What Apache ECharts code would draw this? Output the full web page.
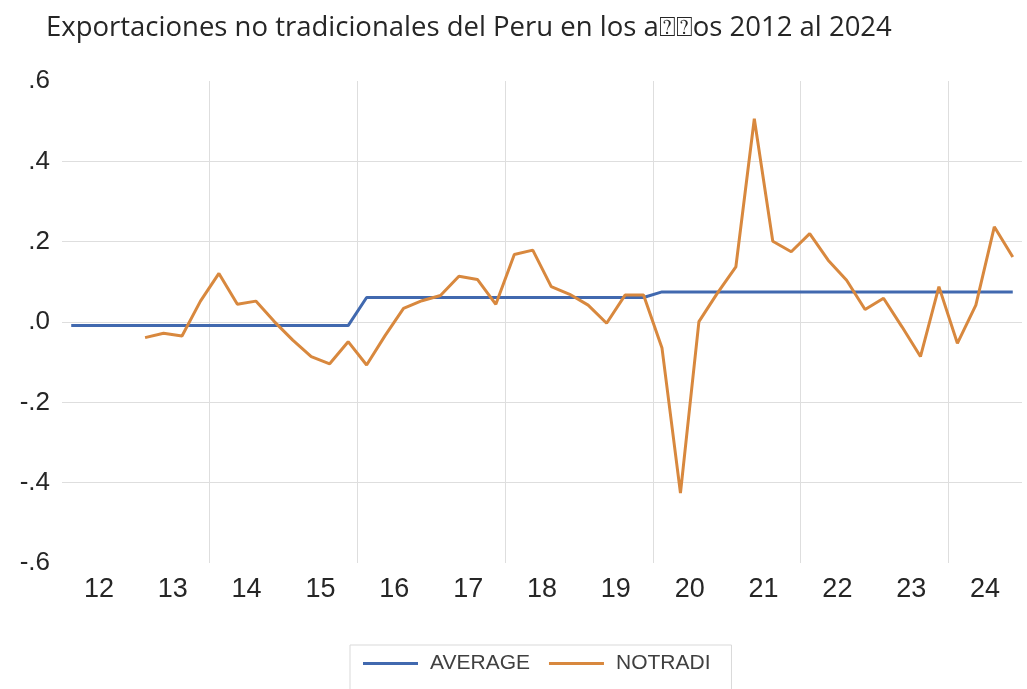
<!DOCTYPE html>
<html>
<head>
<meta charset="utf-8">
<script src="https://cdn.jsdelivr.net/npm/echarts@6/dist/echarts.min.js"></script>
<style>
  html, body { margin: 0; padding: 0; background: #ffffff; }
  #chart { width: 1027px; height: 689px; }
</style>
</head>
<body>
<div id="chart"></div>
<script>
// Quarterly periods 2012Q1 .. 2024Q4
const quarters = [];
for (let y = 2012; y <= 2024; y++) {
  for (let q = 1; q <= 4; q++) quarters.push(y + 'Q' + q);
}

// Year labels shown under the axis
const yearLabels = ['12', '13', '14', '15', '16', '17', '18', '19', '20', '21', '22', '23', '24'];

// Y-axis tick labels, from -0.6 to 0.6 in steps of 0.2
const yTickLabels = ['-.6', '-.4', '-.2', '.0', '.2', '.4', '.6'];

// Period average of non-traditional export growth
const average = [
  -0.009, -0.009, -0.009, -0.009,
  -0.009, -0.009, -0.009, -0.009,
  -0.009, -0.009, -0.009, -0.009,
  -0.009, -0.009, -0.009, -0.009,
  0.061, 0.061, 0.061, 0.061,
  0.061, 0.061, 0.061, 0.061,
  0.061, 0.061, 0.061, 0.061,
  0.061, 0.061, 0.061, 0.061,
  0.075, 0.075, 0.075, 0.075,
  0.075, 0.075, 0.075, 0.075,
  0.075, 0.075, 0.075, 0.075,
  0.075, 0.075, 0.075, 0.075,
  0.075, 0.075, 0.075, 0.075
];

// Year-on-year growth of non-traditional exports
const notradi = [
  null, null, null, null,
  -0.039, -0.028, -0.035, 0.052,
  0.121, 0.044, 0.052, 0.001,
  -0.045, -0.086, -0.104, -0.049,
  -0.107, -0.034, 0.034, 0.053,
  0.066, 0.114, 0.106, 0.044,
  0.168, 0.179, 0.088, 0.069,
  0.042, -0.003, 0.067, 0.067,
  -0.065, -0.426, 0.001, 0.072,
  0.137, 0.506, 0.201, 0.175,
  0.220, 0.154, 0.104, 0.031,
  0.059, -0.012, -0.086, 0.088,
  -0.053, 0.042, 0.237, 0.162
];

const FONT = "'Liberation Sans', Arial, sans-serif";
const TITLE_FONT = "'Open Sans', 'Liberation Sans', sans-serif";
const GRID_COLOR = '#dedede';
const BLUE = '#4169af';
const ORANGE = '#d8883e';

const chart = echarts.init(document.getElementById('chart'), null, { renderer: 'canvas' });

chart.setOption({
  animation: false,
  backgroundColor: '#ffffff',
  title: {
    text: 'Exportaciones no tradicionales del Peru en los a\u2370\u2370os 2012 al 2024',
    left: 46,
    top: 14,
    padding: 0,
    textStyle: { fontFamily: TITLE_FONT, fontSize: 27.5, fontWeight: 'normal', color: '#262626' }
  },
  grid: { left: 62, right: 5, top: 81, bottom: 126, containLabel: false },
  legend: {
    left: 350,
    top: 645,
    orient: 'horizontal',
    padding: [8, 21, 30, 13],
    borderColor: '#d9d9d9',
    borderWidth: 1,
    icon: 'rect',
    itemWidth: 55,
    itemHeight: 3,
    itemGap: 19,
    textStyle: { fontFamily: FONT, fontSize: 21, color: '#404040', padding: [0, 0, 0, 7] },
    data: ['AVERAGE', 'NOTRADI']
  },
  xAxis: [
    {
      type: 'category',
      data: quarters,
      boundaryGap: true,
      axisLine: { show: false },
      axisTick: { show: false },
      axisLabel: { show: false },
      splitLine: {
        show: true,
        interval: 7,
        showMinLine: false,
        showMaxLine: false,
        lineStyle: { color: GRID_COLOR, width: 1 }
      }
    },
    {
      type: 'category',
      data: yearLabels,
      position: 'bottom',
      boundaryGap: true,
      axisLine: { show: false },
      axisTick: { show: false },
      splitLine: { show: false },
      axisLabel: {
        show: true,
        interval: 0,
        margin: 13,
        fontFamily: FONT,
        fontSize: 27,
        color: '#262626'
      }
    }
  ],
  yAxis: {
    type: 'value',
    min: -0.6,
    max: 0.6,
    interval: 0.2,
    axisLine: { show: false },
    axisTick: { show: false },
    axisLabel: {
      margin: 12,
      fontFamily: FONT,
      fontSize: 26,
      color: '#262626',
      formatter: function (v) {
        return yTickLabels[Math.round((v + 0.6) / 0.2)];
      }
    },
    splitLine: {
      show: true,
      showMinLine: false,
      showMaxLine: false,
      lineStyle: { color: GRID_COLOR, width: 1 }
    }
  },
  series: [
    {
      name: 'AVERAGE',
      type: 'line',
      xAxisIndex: 0,
      data: average,
      symbol: 'none',
      lineStyle: { color: BLUE, width: 3 },
      itemStyle: { color: BLUE }
    },
    {
      name: 'NOTRADI',
      type: 'line',
      xAxisIndex: 0,
      data: notradi,
      symbol: 'none',
      connectNulls: false,
      lineStyle: { color: ORANGE, width: 3 },
      itemStyle: { color: ORANGE }
    }
  ]
});
</script>
</body>
</html>
